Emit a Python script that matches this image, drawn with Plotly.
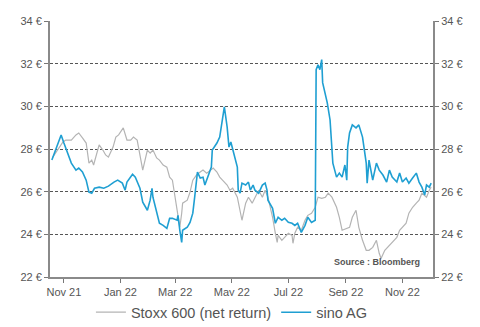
import plotly.graph_objects as go

sino_dates = ["2021-10-19","2021-10-23","2021-10-29","2021-11-01","2021-11-03","2021-11-09","2021-11-14","2021-11-17","2021-11-21","2021-11-25","2021-11-28","2021-12-01","2021-12-04","2021-12-09","2021-12-14","2021-12-19","2021-12-25","2021-12-29","2022-01-03","2022-01-06","2022-01-08","2022-01-14","2022-01-17","2022-01-22","2022-01-25","2022-01-30","2022-02-02","2022-02-04","2022-02-05","2022-02-09","2022-02-12","2022-02-16","2022-02-20","2022-02-23","2022-02-26","2022-03-03","2022-03-04","2022-03-06","2022-03-08","2022-03-09","2022-03-14","2022-03-17","2022-03-20","2022-03-22","2022-03-24","2022-03-25","2022-03-28","2022-03-31","2022-04-02","2022-04-05","2022-04-09","2022-04-10","2022-04-15","2022-04-18","2022-04-21","2022-04-23","2022-04-26","2022-04-28","2022-04-30","2022-05-02","2022-05-07","2022-05-08","2022-05-10","2022-05-12","2022-05-16","2022-05-19","2022-05-21","2022-05-24","2022-05-26","2022-05-30","2022-06-03","2022-06-06","2022-06-08","2022-06-09","2022-06-14","2022-06-17","2022-06-20","2022-06-24","2022-06-27","2022-07-01","2022-07-05","2022-07-08","2022-07-11","2022-07-15","2022-07-19","2022-07-22","2022-07-26","2022-07-30","2022-07-31","2022-08-02","2022-08-04","2022-08-06","2022-08-07","2022-08-12","2022-08-15","2022-08-18","2022-08-20","2022-08-22","2022-08-25","2022-08-28","2022-08-31","2022-09-02","2022-09-03","2022-09-05","2022-09-08","2022-09-12","2022-09-15","2022-09-19","2022-09-21","2022-09-23","2022-09-24","2022-09-26","2022-09-30","2022-10-04","2022-10-07","2022-10-11","2022-10-15","2022-10-18","2022-10-21","2022-10-26","2022-10-29","2022-11-01","2022-11-05","2022-11-08","2022-11-12","2022-11-16","2022-11-19","2022-11-22","2022-11-25","2022-11-27","2022-11-30","2022-12-02"]
sino_values = [27.48,27.95,28.66,28.28,28.05,27.34,27.01,27.11,26.92,26.54,25.98,25.93,26.16,26.21,26.16,26.26,26.45,26.54,26.40,26.07,26.45,26.82,26.68,26.16,25.51,25.13,25.60,26.16,25.74,24.99,24.52,24.42,24.28,24.75,24.75,24.66,24.89,24.19,23.62,24.19,24.33,24.56,24.99,25.74,26.54,26.92,26.64,26.68,26.31,26.68,27.15,27.95,28.28,28.56,29.36,29.98,29.04,28.09,28.33,27.95,27.15,26.07,25.93,26.40,26.31,26.45,26.07,26.31,26.07,25.93,26.31,26.40,26.07,25.60,25.22,24.52,24.80,24.66,24.75,24.56,24.52,24.42,24.52,24.09,24.42,24.80,24.56,24.66,31.72,31.95,31.72,32.19,31.11,30.16,29.36,27.34,27.01,26.68,26.87,26.68,27.25,26.54,28.09,28.75,29.13,28.99,29.13,28.56,27.95,27.34,26.40,27.48,26.54,27.34,27.01,26.78,26.45,27.01,26.68,26.45,26.87,26.45,26.64,26.40,26.64,26.87,26.45,26.21,25.84,26.31,26.21,26.40]

stoxx_dates = ["2021-10-20","2021-10-25","2021-10-31","2021-11-03","2021-11-09","2021-11-14","2021-11-17","2021-11-21","2021-11-25","2021-11-28","2021-12-01","2021-12-03","2021-12-06","2021-12-09","2021-12-13","2021-12-16","2021-12-19","2021-12-24","2021-12-27","2021-12-30","2022-01-04","2022-01-08","2022-01-12","2022-01-15","2022-01-19","2022-01-22","2022-01-25","2022-01-30","2022-02-02","2022-02-05","2022-02-09","2022-02-12","2022-02-16","2022-02-20","2022-02-23","2022-02-26","2022-02-28","2022-03-03","2022-03-04","2022-03-06","2022-03-08","2022-03-09","2022-03-14","2022-03-17","2022-03-20","2022-03-24","2022-03-28","2022-03-31","2022-04-04","2022-04-08","2022-04-11","2022-04-15","2022-04-18","2022-04-21","2022-04-26","2022-04-29","2022-05-02","2022-05-07","2022-05-10","2022-05-12","2022-05-16","2022-05-19","2022-05-23","2022-05-26","2022-05-30","2022-06-03","2022-06-06","2022-06-09","2022-06-14","2022-06-17","2022-06-19","2022-06-20","2022-06-24","2022-06-27","2022-07-01","2022-07-05","2022-07-06","2022-07-08","2022-07-11","2022-07-15","2022-07-19","2022-07-22","2022-07-26","2022-07-30","2022-08-02","2022-08-06","2022-08-10","2022-08-13","2022-08-17","2022-08-22","2022-08-25","2022-08-28","2022-09-02","2022-09-05","2022-09-08","2022-09-12","2022-09-15","2022-09-19","2022-09-23","2022-09-26","2022-09-30","2022-10-04","2022-10-07","2022-10-09","2022-10-13","2022-10-16","2022-10-20","2022-10-26","2022-10-29","2022-11-01","2022-11-05","2022-11-08","2022-11-12","2022-11-16","2022-11-19","2022-11-22","2022-11-27","2022-11-30","2022-12-02"]
stoxx_values = [27.62,27.95,28.33,28.42,28.42,28.66,28.75,28.52,28.28,27.34,27.48,27.25,27.72,28.19,27.95,27.72,27.62,28.09,28.56,28.66,28.99,28.42,28.42,28.56,28.42,27.70,27.01,27.95,27.81,27.95,27.58,27.48,27.25,27.15,26.68,26.54,25.98,25.13,24.66,24.33,24.99,25.46,25.60,25.98,26.54,26.78,26.92,27.01,26.87,27.01,27.11,26.92,26.68,26.54,26.31,26.07,26.16,25.74,24.99,24.66,25.46,25.74,25.46,25.74,26.07,25.74,26.07,25.74,24.80,24.05,23.62,23.95,23.72,23.86,24.05,23.95,23.58,24.05,24.33,24.19,24.66,24.89,24.99,25.27,25.74,25.69,25.74,25.93,25.74,25.27,24.80,24.19,24.28,24.33,24.80,25.13,24.33,23.72,23.25,23.25,23.39,23.72,23.11,22.87,23.25,23.39,23.58,23.86,24.19,24.33,24.52,24.99,25.27,25.46,25.60,25.93,25.74,26.07,26.21]

y_ticks = [22, 24, 26, 28, 30, 32, 34]
y_labels = [f"{v} €" for v in y_ticks]

FONT = "Liberation Sans, Arial, sans-serif"
fig = go.Figure()
fig.add_trace(go.Scatter(x=stoxx_dates, y=stoxx_values, mode="lines", name="Stoxx 600 (net return)",
                         line=dict(color="#b4b4b4", width=1.2)))
fig.add_trace(go.Scatter(x=sino_dates, y=sino_values, mode="lines", name="sino AG",
                         line=dict(color="#1f9fd2", width=1.6)))
fig.add_trace(go.Scatter(x=[sino_dates[0]], y=[sino_values[0]], yaxis="y2", mode="lines",
                         showlegend=False, hoverinfo="skip", line=dict(color="rgba(0,0,0,0)")))

axis_y = dict(range=[22, 34], tickvals=y_ticks, ticktext=y_labels, ticks="outside", ticklen=4,
              tickcolor="#777", showline=True, linecolor="#8a8a8a", linewidth=2,
              tickfont=dict(family=FONT, size=11, color="#555"), zeroline=False, fixedrange=True,
              automargin=False)

fig.update_layout(
    width=480, height=327,
    margin=dict(l=50, r=47, t=21, b=50, autoexpand=False),
    paper_bgcolor="white", plot_bgcolor="white",
    showlegend=True,
    legend=dict(orientation="h", x=0.475, xanchor="center", yref="container", y=0.045, yanchor="middle",
                font=dict(family=FONT, size=14.5, color="#555"), itemwidth=30, tracegroupgap=0),
    xaxis=dict(type="date", range=["2021-10-17", "2022-12-04"], tick0="2021-11-01", dtick="M2",
               tickformat="%b %y", ticks="outside", ticklen=4, tickcolor="#777",
               showline=True, linecolor="#8a8a8a", linewidth=2, showgrid=False, zeroline=False,
               automargin=False, tickfont=dict(family=FONT, size=11, color="#555")),
    yaxis=dict(**axis_y, side="left", showgrid=True, gridcolor="#555", griddash="3px,2px", gridwidth=1),
    yaxis2=dict(**axis_y, side="right", overlaying="y", anchor="x", showgrid=False),
    annotations=[dict(text="<b>Source : Bloomberg</b>", xref="paper", yref="paper", x=0.97, y=0.06,
                      xanchor="right", yanchor="middle", showarrow=False,
                      font=dict(family=FONT, size=9, color="#555"))],
)

fig.write_html("out.html")
